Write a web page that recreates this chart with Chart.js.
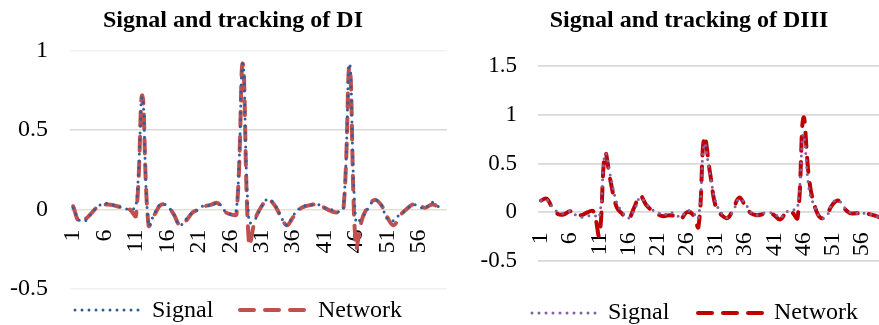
<!DOCTYPE html>
<html>
<head>
<meta charset="utf-8">
<script src="https://cdn.jsdelivr.net/npm/chart.js@4.4.0/dist/chart.umd.min.js"></script>
<style>
  html, body { margin: 0; padding: 0; background: #fff; overflow: hidden; width: 879px; height: 325px; }
  .panel { position: absolute; top: 0; height: 325px; }
  #p1 { left: 0; width: 450px; }
  #p2 { left: 450px; width: 450px; }
</style>
</head>
<body>
<div class="panel" id="p1"><canvas id="c1" width="450" height="325"></canvas></div>
<div class="panel" id="p2"><canvas id="c2" width="450" height="325"></canvas></div>
<script>
// Sample index along the horizontal axis
const categories = [
  1, 2, 3, 4, 5, 6, 7, 8, 9, 10, 11, 12, 13, 14, 15, 16, 17, 18, 19, 20,
  21, 22, 23, 24, 25, 26, 27, 28, 29, 30, 31, 32, 33, 34, 35, 36, 37, 38, 39, 40,
  41, 42, 43, 44, 45, 46, 47, 48, 49, 50, 51, 52, 53, 54, 55, 56, 57, 58, 59, 60
];
const labelEvery = 5;

// Lead DI
const diSignal = [
  0.01, -0.07, -0.07, -0.02, 0.02, 0.04, 0.03, 0.02, 0.01, 0.0,
  0.02, 0.71, -0.1, -0.02, 0.035, 0.02, -0.03, -0.1, -0.06, -0.02,
  0.0, 0.03, 0.02, 0.045, -0.005, -0.03, 0.0, 0.92, -0.08, -0.06,
  0.02, 0.065, 0.035, -0.04, -0.1, -0.04, 0.005, 0.025, 0.03, 0.03,
  0.01, 0.0, -0.015, 0.005, 0.92, -0.08, -0.05, 0.01, 0.06, 0.03,
  -0.06, -0.07, -0.03, -0.005, 0.03, 0.02, 0.005, 0.045, 0.02, -0.005
];
const diNetwork = [
  0.02, -0.08, -0.06, -0.02, 0.02, 0.03, 0.03, 0.02, 0.01, 0.0,
  -0.04, 0.72, -0.1, -0.03, 0.03, 0.02, -0.03, -0.1, -0.07, -0.02,
  0.0, 0.02, 0.03, 0.04, -0.01, -0.03, -0.03, 0.92, -0.22, -0.06,
  0.02, 0.06, 0.03, -0.04, -0.1, -0.05, 0.0, 0.02, 0.03, 0.03,
  0.01, -0.01, -0.02, -0.01, 0.9, -0.24, -0.06, 0.02, 0.06, 0.03,
  -0.05, -0.1, -0.04, 0.0, 0.03, 0.03, 0.01, 0.03, 0.02, -0.01
];

// Lead DIII
const diiiSignal = [
  0.12, 0.13, 0.05, 0.0, -0.01, 0.01, -0.03, -0.05, -0.04, -0.03,
  -0.05, 0.6, 0.35, 0.1, 0.0, -0.06, 0.02, 0.15, 0.09, 0.03,
  0.0, -0.03, 0.0, -0.02, -0.05, 0.015, 0.0, -0.06, 0.7, 0.38,
  0.1, -0.01, -0.055, 0.02, 0.14, 0.09, 0.0, -0.03, -0.01, -0.005,
  -0.01, -0.06, 0.0, 0.02, 0.05, 0.8, 0.22, 0.05, -0.06, -0.04,
  0.1, 0.12, 0.05, 0.0, -0.01, -0.01, -0.01, -0.03, -0.05, -0.07
];
const diiiNetwork = [
  0.12, 0.14, 0.04, -0.02, -0.02, 0.01, -0.01, -0.03, 0.0, 0.01,
  -0.24, 0.6, 0.3, 0.05, -0.02, -0.065, 0.05, 0.17, 0.08, 0.02,
  -0.02, -0.04, -0.03, -0.04, -0.065, 0.0, -0.02, -0.15, 0.77, 0.4,
  0.05, -0.03, -0.06, 0.04, 0.15, 0.07, -0.01, -0.03, -0.02, -0.01,
  -0.03, -0.075, -0.01, 0.0, -0.06, 0.97, 0.33, 0.05, -0.06, -0.02,
  0.08, 0.12, 0.04, -0.01, -0.01, -0.01, -0.015, -0.03, -0.05, -0.07
];

// Value axis ranges [min, max, step]
const diRange = [-0.5, 1, 0.5];
const diiiRange = [-0.5, 1.5, 0.5];

const SERIF = "'Liberation Serif', 'Times New Roman', serif";
Chart.defaults.font.family = SERIF;
Chart.defaults.color = '#000';

// Heading above the plot, centred on a given x
const heading = {
  id: 'heading',
  afterDraw(chart, args, opts) {
    const ctx = chart.ctx;
    ctx.save();
    ctx.fillStyle = '#000';
    ctx.font = 'bold 24px ' + SERIF;
    ctx.textAlign = 'center';
    ctx.textBaseline = 'alphabetic';
    ctx.fillText(opts.text, opts.x, opts.baseline);
    ctx.restore();
  }
};

// Legend row: a sample stroke in each series' own style followed by its name
const strokeKey = {
  id: 'strokeKey',
  afterDraw(chart, args, opts) {
    const ctx = chart.ctx;
    ctx.save();
    chart.data.datasets.forEach((ds, i) => {
      const [x0, x1, tx] = opts.items[i];
      ctx.beginPath();
      ctx.strokeStyle = ds.borderColor;
      ctx.lineWidth = ds.borderWidth;
      ctx.lineCap = ds.borderCapStyle;
      ctx.setLineDash(ds.borderDash);
      ctx.moveTo(x0, opts.y);
      ctx.lineTo(x1, opts.y);
      ctx.stroke();
      ctx.setLineDash([]);
      ctx.fillStyle = '#000';
      ctx.font = opts.fontSize + 'px ' + SERIF;
      ctx.textBaseline = 'alphabetic';
      ctx.textAlign = 'left';
      ctx.fillText(ds.label, tx, opts.baseline);
    });
    ctx.restore();
  }
};

function lineSet(label, data, color, dotted) {
  return {
    label, data,
    borderColor: color,
    borderWidth: dotted ? 3 : 4,
    borderDash: dotted ? [0, 7] : [14, 11],
    borderCapStyle: 'round',
    borderJoinStyle: 'round',
    pointRadius: 0,
    tension: 0.4,
    fill: false
  };
}

function buildChart(canvasId, p) {
  return new Chart(document.getElementById(canvasId), {
    type: 'line',
    data: {
      labels: categories,
      datasets: [
        lineSet('Signal', p.signal, p.signalColor, true),
        lineSet('Network', p.network, p.networkColor, false)
      ]
    },
    options: {
      responsive: false,
      animation: false,
      devicePixelRatio: 1,
      layout: { padding: p.padding },
      plugins: {
        legend: { display: false },
        tooltip: { enabled: false },
        title: { display: false },
        heading: p.heading,
        strokeKey: p.key
      },
      scales: {
        x: {
          type: 'category',
          position: { y: 0 },
          offset: true,
          grid: { display: false, drawTicks: false },
          border: { display: false },
          ticks: {
            autoSkip: false,
            minRotation: 90,
            maxRotation: 90,
            padding: 20,
            color: '#000',
            font: { size: 24 },
            callback(v, i) { return i % labelEvery === 0 ? String(categories[i]) : ''; }
          },
          afterFit(s) { s.paddingLeft = 0; s.paddingRight = 0; }
        },
        y: {
          min: p.range[0],
          max: p.range[1],
          border: { display: false },
          grid: { drawTicks: false, lineWidth: p.gridWidth, color: p.gridColor },
          ticks: {
            stepSize: p.range[2],
            padding: p.tickGap,
            color: '#000',
            font: { size: p.tickSize },
            callback(v) { return String(Math.round(v * 100) / 100); }
          },
          afterFit(s) { s.width = p.axisWidth; }
        }
      }
    },
    plugins: [heading, strokeKey]
  });
}

buildChart('c1', {
  heading: { text: 'Signal and tracking of DI', x: 233, baseline: 26.5 },
  signal: diSignal, network: diNetwork,
  signalColor: '#2F5D9E', networkColor: '#C0504D',
  range: diRange,
  padding: { left: 0, right: 3, top: 51, bottom: 30 },
  axisWidth: 70, tickGap: 22, tickSize: 24,
  gridWidth: 1.5,
  gridColor: (c) => {
    const v = c.tick ? c.tick.value : null;
    if (v === 0) return '#E6E0D4';
    if (v === 0.5) return '#D9D9D9';
    return '#F2F2F2';
  },
  key: { items: [[75, 145, 152], [240, 310, 318]], y: 310, baseline: 316.5, fontSize: 24 }
});

buildChart('c2', {
  heading: { text: 'Signal and tracking of DIII', x: 239, baseline: 26.7 },
  signal: diiiSignal, network: diiiNetwork,
  signalColor: '#8064A2', networkColor: '#C00000',
  range: diiiRange,
  padding: { left: 0, right: 12, top: 66, bottom: 64 },
  axisWidth: 88, tickGap: 21, tickSize: 23,
  gridWidth: 1.8,
  gridColor: '#D9D9D9',
  key: { items: [[82, 148, 158], [248, 318, 324]], y: 313, baseline: 318.5, fontSize: 24 }
});
</script>
</body>
</html>
